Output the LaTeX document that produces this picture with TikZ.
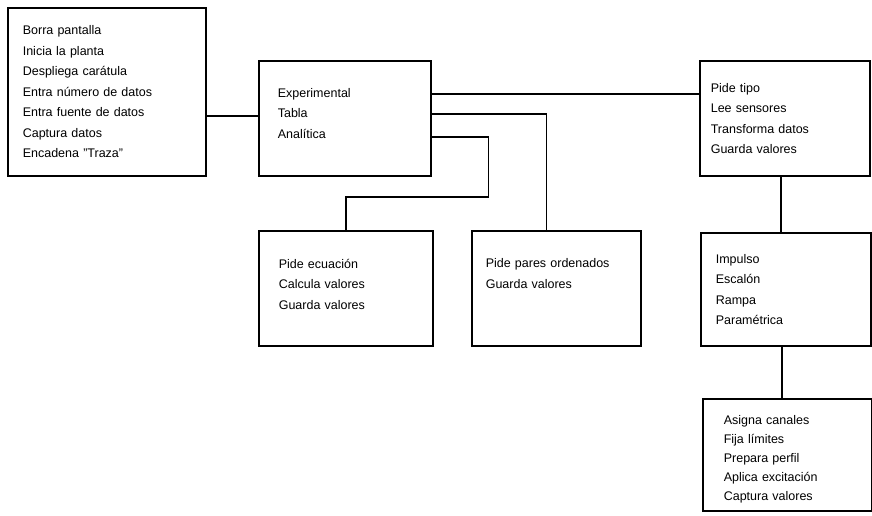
\documentclass[tikz,border=0pt]{standalone}
\usepackage{fontspec}
\setmainfont{Liberation Sans}
\usetikzlibrary{positioning,calc}

\begin{document}
\begin{tikzpicture}[
  x=1pt, y=-1pt,
  block/.style={draw, line width=1.6pt, anchor=north west, inner xsep=0pt, inner ysep=0pt,
    align=left, font=\fontsize{12.5}{20.5}\selectfont},
  link/.style={draw, line width=1.6pt}
]
  \useasboundingbox (0,0) rectangle (872,515);

  % main program
  \node[block, minimum width=198pt, minimum height=168pt, text width=168pt] (init) at (7,7)
    {Borra pantalla\\Inicia la planta\\Despliega carátula\\Entra número de datos\\Entra fuente de datos\\Captura datos\\Encadena "Traza"};
  \node[block, minimum width=172pt, minimum height=115pt, text width=134pt] (fuente) at (258,60)
    {Experimental\\Tabla\\Analítica\\[-10.5pt]\mbox{}};
  \node[block, minimum width=170pt, minimum height=115pt, text width=148pt] (tipo) at (699,60)
    {Pide tipo\\Lee sensores\\Transforma datos\\Guarda valores};

  % data sources
  \node[block, minimum width=174pt, minimum height=115pt, text width=134pt] (ecua) at (258,230)
    {Pide ecuación\\Calcula valores\\Guarda valores\\[-12.5pt]\mbox{}};
  \node[block, minimum width=169pt, minimum height=115pt, text width=141pt] (pares) at (471,230)
    {Pide pares ordenados\\Guarda valores\\[9.5pt]\mbox{}};

  % excitation
  \node[block, minimum width=170pt, minimum height=113pt, text width=140pt] (funcs) at (700,232)
    {Impulso\\Escalón\\Rampa\\Paramétrica};
  \node[block, minimum width=169pt, minimum height=112pt, text width=127pt,
    font=\fontsize{12.5}{19}\selectfont] (excit) at (702,398)
    {\mbox{}\\[-1pt]Asigna canales\\Fija límites\\Prepara perfil\\Aplica excitación\\Captura valores};

  \draw[link] ([yshift=2.5pt]fuente.west) -- ([yshift=2.5pt]fuente.west -| init.east);
  \draw[link] ([yshift=24.5pt]fuente.east) -- ([yshift=24.5pt]fuente.east -| tipo.west);
  \draw[link] ([yshift=4.5pt]fuente.east) -| ([xshift=-10pt]pares.north);
  \draw[link] ([yshift=-18.5pt]fuente.east) -- ++(57,0) |- ([yshift=33pt]ecua.north) -- (ecua.north);
  \draw[link] ([xshift=-4pt]tipo.south) -- ([xshift=-4pt]tipo.south |- funcs.north);
  \draw[link] ([xshift=-4pt]funcs.south) -- ([xshift=-4pt]funcs.south |- excit.north);
\end{tikzpicture}
\end{document}
